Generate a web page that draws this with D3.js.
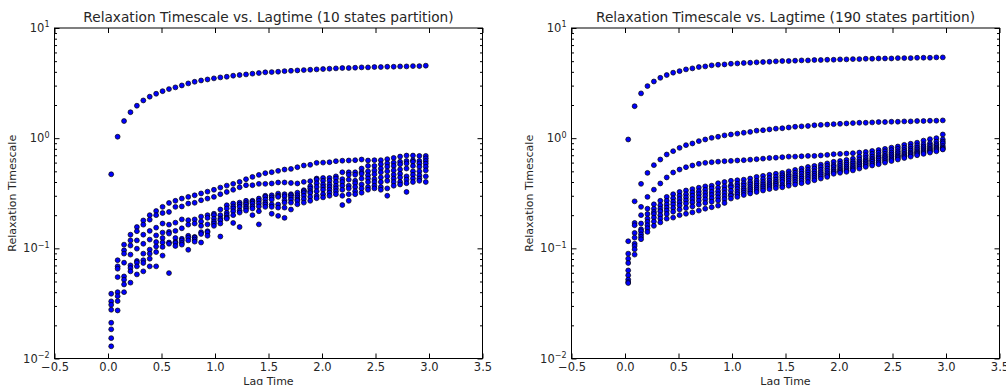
<!DOCTYPE html>
<html>
<head>
<meta charset="utf-8">
<script src="https://cdn.jsdelivr.net/npm/d3@7"></script>
<style>
  html, body { margin: 0; padding: 0; background: #fff; }
  svg { display: block; font-family: "DejaVu Sans", sans-serif; }
</style>
</head>
<body>
<svg id="chart" width="1006" height="385"></svg>
<script>
// ---------------- data ----------------
const lagTimes = [0.03,0.09,0.15,0.21,0.27,0.33,0.39,0.45,0.51,0.57,
  0.63,0.69,0.75,0.81,0.87,0.93,0.99,1.05,1.11,1.17,
  1.23,1.29,1.35,1.41,1.47,1.53,1.59,1.65,1.71,1.77,
  1.83,1.89,1.95,2.01,2.07,2.13,2.19,2.25,2.31,2.37,
  2.43,2.49,2.55,2.61,2.67,2.73,2.79,2.85,2.91,2.97];

const xTickValues = [-0.5,0.0,0.5,1.0,1.5,2.0,2.5,3.0,3.5];
const yTickExponents = [-2,-1,0,1];

const leftTitle = "Relaxation Timescale vs. Lagtime (10 states partition)";
const rightTitle = "Relaxation Timescale vs. Lagtime (190 states partition)";
const xLabel = "Lag Time";
const yLabel = "Relaxation Timescale";

// 10 states partition: 9 timescales
const leftS1 = [0.47,1.03,1.43,1.72,1.97,2.2,2.38,2.53,2.67,2.79,
  2.89,3.01,3.14,3.25,3.34,3.41,3.49,3.56,3.61,3.69,
  3.74,3.79,3.85,3.90,3.96,3.98,4.01,4.06,4.09,4.12,
  4.15,4.18,4.21,4.24,4.27,4.30,4.33,4.33,4.36,4.39,
  4.39,4.42,4.42,4.45,4.45,4.48,4.48,4.51,4.51,4.55];
const leftS2 = [0.0387,0.078,0.108,0.133,0.156,0.179,0.2,0.218,0.238,0.258,
  0.27,0.283,0.293,0.303,0.315,0.327,0.34,0.356,0.371,0.385,
  0.401,0.424,0.445,0.464,0.481,0.491,0.505,0.519,0.526,0.545,
  0.565,0.573,0.597,0.6,0.605,0.618,0.624,0.627,0.631,0.64,
  0.627,0.631,0.631,0.645,0.662,0.681,0.695,0.695,0.69,0.69];
const leftS3 = [0.033,0.0686,0.096,0.118,0.143,0.164,0.182,0.2,0.209,0.214,
  0.238,0.24,0.255,0.259,0.273,0.283,0.293,0.31,0.325,0.34,
  0.358,0.374,0.374,0.385,0.385,0.388,0.396,0.396,0.392,0.388,
  0.401,0.407,0.43,0.435,0.435,0.45,0.49,0.49,0.49,0.53,
  0.56,0.56,0.58,0.59,0.6,0.61,0.62,0.63,0.62,0.656];
const leftS4 = [0.0307,0.0653,0.0895,0.106,0.118,0.133,0.144,0.154,0.168,0.164,
  0.171,0.183,0.18,0.183,0.194,0.2,0.206,0.225,0.246,0.255,
  0.26,0.27,0.27,0.283,0.3,0.303,0.314,0.31,0.31,0.32,
  0.337,0.366,0.42,0.41,0.41,0.43,0.425,0.465,0.465,0.49,
  0.5,0.51,0.53,0.55,0.56,0.58,0.59,0.61,0.59,0.62];
const leftS5 = [0.0277,0.0548,0.0741,0.0877,0.0993,0.110,0.12,0.131,0.139,0.141,
  0.144,0.152,0.164,0.168,0.175,0.189,0.2,0.2,0.23,0.24,
  0.25,0.258,0.264,0.27,0.293,0.29,0.3,0.297,0.303,0.303,
  0.33,0.349,0.39,0.38,0.38,0.40,0.40,0.42,0.41,0.475,
  0.46,0.47,0.49,0.50,0.51,0.52,0.53,0.56,0.55,0.587];
const leftS6 = [0.0211,0.040,0.0556,0.070,0.0767,0.0895,0.0973,0.114,0.124,0.136,
  0.124,0.122,0.13,0.127,0.16,0.165,0.186,0.186,0.21,0.23,
  0.238,0.25,0.255,0.255,0.277,0.277,0.293,0.273,0.29,0.29,
  0.318,0.33,0.36,0.36,0.36,0.37,0.37,0.37,0.39,0.43,
  0.43,0.425,0.44,0.45,0.465,0.475,0.45,0.50,0.5,0.55];
const leftS7 = [0.0184,0.0368,0.0519,0.0662,0.0741,0.078,0.0895,0.104,0.113,0.113,
  0.114,0.118,0.125,0.125,0.14,0.143,0.175,0.18,0.2,0.217,
  0.22,0.238,0.24,0.24,0.26,0.25,0.25,0.26,0.277,0.277,
  0.3,0.318,0.33,0.34,0.34,0.35,0.34,0.35,0.36,0.38,
  0.40,0.40,0.40,0.41,0.43,0.44,0.42,0.465,0.46,0.51];
const leftS8 = [0.0153,0.0332,0.047,0.0618,0.0686,0.0736,0.0805,0.0925,0.103,0.110,
  0.112,0.112,0.118,0.12,0.135,0.14,0.168,0.168,0.19,0.2,
  0.211,0.23,0.23,0.217,0.25,0.238,0.234,0.234,0.26,0.27,
  0.28,0.293,0.30,0.31,0.32,0.33,0.30,0.31,0.33,0.35,
  0.36,0.37,0.36,0.35,0.40,0.40,0.39,0.43,0.43,0.45];
const leftS9 = [0.0129,0.0273,0.040,0.0488,0.058,0.0618,0.0686,0.0686,0.0859,0.0596,
  0.105,0.108,0.097,0.115,0.113,0.13,0.16,0.128,0.186,0.17,
  0.156,0.22,0.2,0.165,0.238,0.206,0.197,0.189,0.225,0.251,
  0.26,0.27,0.285,0.29,0.30,0.31,0.247,0.27,0.31,0.32,
  0.34,0.35,0.34,0.30,0.37,0.38,0.325,0.40,0.41,0.40];

// 190 states partition: 10 timescales shown
const rightS1 = [0.973,1.95,2.55,2.97,3.27,3.53,3.74,3.93,4.06,4.21,
  4.30,4.42,4.48,4.58,4.64,4.67,4.74,4.77,4.81,4.84,
  4.88,4.91,4.94,4.98,5.01,5.01,5.05,5.08,5.08,5.12,
  5.12,5.15,5.15,5.19,5.19,5.22,5.22,5.26,5.26,5.29,
  5.29,5.29,5.33,5.33,5.33,5.37,5.37,5.37,5.41,5.41];
const rightS2 = [0.116,0.267,0.385,0.484,0.569,0.64,0.711,0.762,0.817,0.864,
  0.895,0.94,0.973,1.007,1.03,1.06,1.08,1.10,1.12,1.14,
  1.17,1.18,1.20,1.22,1.23,1.25,1.27,1.28,1.29,1.31,
  1.32,1.33,1.34,1.35,1.36,1.37,1.38,1.38,1.39,1.40,
  1.40,1.41,1.41,1.42,1.42,1.43,1.43,1.44,1.44,1.45];
const rightS3 = [0.0895,0.17,0.238,0.293,0.341,0.388,0.44,0.488,0.519,0.545,
  0.565,0.585,0.597,0.605,0.612,0.618,0.622,0.627,0.631,0.638,
  0.644,0.652,0.66,0.665,0.672,0.68,0.68,0.685,0.69,0.69,
  0.697,0.705,0.715,0.72,0.725,0.73,0.74,0.75,0.765,0.78,
  0.80,0.82,0.84,0.87,0.89,0.91,0.95,0.98,1.0,1.08];
const rightS4 = [0.0805,0.162,0.2,0.229,0.251,0.27,0.293,0.31,0.325,0.335,
  0.345,0.355,0.365,0.37,0.39,0.40,0.41,0.415,0.42,0.43,
  0.445,0.455,0.465,0.475,0.484,0.50,0.515,0.53,0.548,0.56,
  0.575,0.59,0.61,0.62,0.635,0.65,0.68,0.70,0.72,0.74,
  0.76,0.78,0.80,0.82,0.84,0.86,0.88,0.90,0.93,0.973];
const rightS5 = [0.0736,0.138,0.168,0.205,0.229,0.246,0.27,0.285,0.30,0.31,
  0.322,0.33,0.34,0.35,0.355,0.365,0.374,0.385,0.39,0.40,
  0.41,0.425,0.435,0.445,0.46,0.47,0.485,0.50,0.515,0.53,
  0.545,0.56,0.569,0.585,0.60,0.615,0.64,0.66,0.68,0.70,
  0.72,0.74,0.76,0.78,0.80,0.82,0.84,0.86,0.88,0.93];
const rightS6 = [0.063,0.125,0.149,0.186,0.214,0.229,0.25,0.265,0.28,0.29,
  0.30,0.31,0.318,0.325,0.33,0.34,0.358,0.365,0.37,0.38,
  0.39,0.40,0.41,0.42,0.44,0.45,0.46,0.475,0.49,0.50,
  0.515,0.53,0.548,0.56,0.575,0.59,0.61,0.63,0.65,0.67,
  0.69,0.71,0.73,0.75,0.77,0.79,0.81,0.83,0.85,0.898];
const rightS7 = [0.0569,0.110,0.143,0.174,0.205,0.217,0.234,0.25,0.262,0.272,
  0.28,0.29,0.298,0.305,0.31,0.318,0.333,0.345,0.35,0.36,
  0.37,0.38,0.39,0.40,0.42,0.43,0.44,0.45,0.465,0.475,
  0.49,0.505,0.52,0.535,0.55,0.565,0.59,0.61,0.63,0.65,
  0.67,0.685,0.70,0.72,0.74,0.76,0.78,0.80,0.82,0.85];
const rightS8 = [0.052,0.105,0.134,0.162,0.19,0.2,0.22,0.232,0.245,0.255,
  0.262,0.27,0.278,0.285,0.29,0.298,0.31,0.325,0.335,0.345,
  0.355,0.365,0.375,0.385,0.40,0.41,0.42,0.43,0.445,0.455,
  0.47,0.48,0.50,0.515,0.53,0.545,0.57,0.59,0.61,0.625,
  0.645,0.66,0.68,0.70,0.72,0.74,0.76,0.78,0.80,0.82];
const rightS9 = [0.0494,0.098,0.127,0.152,0.175,0.186,0.205,0.215,0.225,0.232,
  0.24,0.25,0.258,0.265,0.272,0.28,0.30,0.31,0.32,0.33,
  0.34,0.35,0.36,0.37,0.374,0.39,0.40,0.41,0.425,0.435,
  0.45,0.46,0.49,0.50,0.51,0.525,0.55,0.57,0.585,0.60,
  0.62,0.64,0.66,0.68,0.70,0.72,0.74,0.76,0.78,0.80];
const rightS10 = [0.0484,0.0877,0.121,0.141,0.16,0.172,0.186,0.19,0.2,0.206,
  0.212,0.22,0.229,0.236,0.244,0.258,0.283,0.293,0.305,0.315,
  0.325,0.335,0.345,0.352,0.358,0.37,0.38,0.39,0.40,0.415,
  0.43,0.445,0.475,0.485,0.495,0.51,0.53,0.55,0.565,0.58,
  0.60,0.62,0.64,0.66,0.68,0.70,0.72,0.74,0.76,0.79];

const leftSeries = [leftS1,leftS2,leftS3,leftS4,leftS5,leftS6,leftS7,leftS8,leftS9];
const rightSeries = [rightS1,rightS2,rightS3,rightS4,rightS5,rightS6,rightS7,rightS8,rightS9,rightS10];

// ---------------- drawing ----------------
const svg = d3.select("#chart");
const textColor = "#262626";

function drawPanel(x0, x1, series, title) {
  const y0 = 28, y1 = 358.5;
  const x = d3.scaleLinear().domain([-0.5, 3.5]).range([x0, x1]);
  const y = d3.scaleLog().domain([0.01, 10]).range([y1, y0]);
  const g = svg.append("g");

  // points
  const pts = [];
  series.forEach((s, si) => s.forEach((v, i) => pts.push({ t: lagTimes[i], v, si })));
  g.append("g").selectAll("circle").data(pts).join("circle")
    .attr("cx", d => x(d.t)).attr("cy", d => y(d.v))
    .attr("r", 2.45)
    .attr("fill", "#0000ff")
    .attr("stroke", "#000")
    .attr("stroke-width", 0.7);

  // minor log ticks
  const minor = [];
  for (let e = -2; e <= 0; e++) for (let k = 2; k <= 9; k++) minor.push(k * Math.pow(10, e));
  const major = yTickExponents.map(e => Math.pow(10, e));

  const styleAxis = sel => {
    sel.select(".domain").remove();
    sel.selectAll(".tick line").attr("stroke", "#000").attr("stroke-width", 1);
    sel.selectAll(".tick text").attr("fill", textColor).attr("font-size", 11.5)
      .attr("font-family", "DejaVu Sans");
  };

  // bottom axis with labels
  g.append("g").attr("transform", `translate(0,${y1})`)
    .call(d3.axisBottom(x).tickValues(xTickValues).tickFormat(d3.format(".1f"))
      .tickSizeInner(-5).tickSizeOuter(0).tickPadding(4.5))
    .call(styleAxis);
  // top ticks
  g.append("g").attr("transform", `translate(0,${y0})`)
    .call(d3.axisTop(x).tickValues(xTickValues).tickFormat("").tickSizeInner(-5).tickSizeOuter(0))
    .call(styleAxis);
  // left major / minor
  g.append("g").attr("transform", `translate(${x0},0)`)
    .call(d3.axisLeft(y).tickValues(major).tickFormat("").tickSizeInner(-5).tickSizeOuter(0))
    .call(styleAxis);
  g.append("g").attr("transform", `translate(${x0},0)`)
    .call(d3.axisLeft(y).tickValues(minor).tickFormat("").tickSizeInner(-2.5).tickSizeOuter(0))
    .call(styleAxis);
  // right major / minor
  g.append("g").attr("transform", `translate(${x1},0)`)
    .call(d3.axisRight(y).tickValues(major).tickFormat("").tickSizeInner(-5).tickSizeOuter(0))
    .call(styleAxis);
  g.append("g").attr("transform", `translate(${x1},0)`)
    .call(d3.axisRight(y).tickValues(minor).tickFormat("").tickSizeInner(-2.5).tickSizeOuter(0))
    .call(styleAxis);

  // y tick labels 10^n
  const lab = g.append("g");
  yTickExponents.forEach(e => {
    const t = lab.append("text")
      .attr("x", x0 - 5).attr("y", y(Math.pow(10, e)))
      .attr("dy", "0.36em")
      .attr("text-anchor", "end")
      .attr("fill", textColor).attr("font-size", 11.5);
    t.append("tspan").text("10");
    t.append("tspan").attr("font-size", 8).attr("dy", "-0.6em")
      .text(e < 0 ? "\u2212" + Math.abs(e) : String(e));
  });

  // frame
  g.append("rect")
    .attr("x", x0).attr("y", y0).attr("width", x1 - x0).attr("height", y1 - y0)
    .attr("fill", "none").attr("stroke", "#000").attr("stroke-width", 1);

  // title
  g.append("text").attr("x", (x0 + x1) / 2).attr("y", 22)
    .attr("text-anchor", "middle").attr("font-size", 13.7).attr("fill", textColor)
    .text(title);
  // x label
  g.append("text").attr("x", (x0 + x1) / 2).attr("y", 385)
    .attr("text-anchor", "middle").attr("font-size", 11).attr("fill", textColor)
    .text(xLabel);
  // y label
  g.append("text")
    .attr("transform", `translate(${x0 - 39},${(y0 + y1) / 2}) rotate(-90)`)
    .attr("text-anchor", "middle").attr("font-size", 11).attr("fill", textColor)
    .text(yLabel);
}

drawPanel(54.5, 482.5, leftSeries, leftTitle);
drawPanel(571.5, 999.5, rightSeries, rightTitle);
</script>
</body>
</html>
